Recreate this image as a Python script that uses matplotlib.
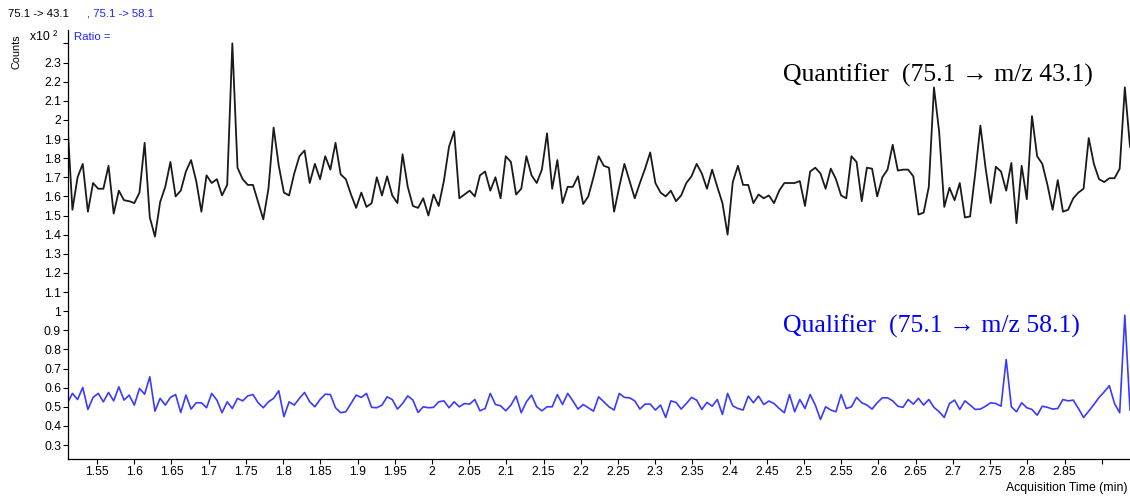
import numpy as np
import matplotlib
matplotlib.use('Agg')
import matplotlib.pyplot as plt

# acquisition window (min), scans are evenly spaced
t_start = 1.510
t_end = 2.938

# counts (x10^2)
quantifier = [
    2.00, 1.53, 1.70, 1.77, 1.52, 1.67, 1.64, 1.64, 1.76, 1.51, 1.63, 1.58, 1.575, 1.565, 1.62, 1.88,
    1.49, 1.39, 1.57, 1.65, 1.78, 1.60, 1.63, 1.73, 1.79, 1.68, 1.52, 1.71, 1.67, 1.69, 1.605, 1.66,
    2.40, 1.75, 1.69, 1.66, 1.66, 1.57, 1.48, 1.64, 1.96, 1.76, 1.62, 1.605, 1.72, 1.81, 1.84, 1.67,
    1.77, 1.69, 1.81, 1.74, 1.88,
    1.715, 1.69, 1.61, 1.54, 1.62, 1.545, 1.565, 1.70, 1.605, 1.705, 1.605, 1.565, 1.82, 1.65, 1.55,
    1.54, 1.59, 1.50, 1.61, 1.55, 1.68, 1.86, 1.94, 1.59, 1.61, 1.63, 1.60, 1.71, 1.73, 1.63, 1.70,
    1.59, 1.81, 1.78, 1.61, 1.64, 1.81, 1.71, 1.67, 1.74, 1.93, 1.64, 1.79, 1.565, 1.65, 1.65, 1.705,
    1.56, 1.60, 1.70, 1.81,
    1.76, 1.75, 1.52, 1.65, 1.77, 1.68, 1.59, 1.67, 1.745, 1.83, 1.67, 1.62, 1.60, 1.63, 1.575, 1.605,
    1.67, 1.705, 1.77, 1.72, 1.64, 1.74, 1.65, 1.565, 1.40, 1.675, 1.76, 1.66, 1.66, 1.565, 1.61, 1.59,
    1.605, 1.565, 1.63, 1.67, 1.67, 1.67, 1.68, 1.55, 1.73, 1.75, 1.72, 1.64, 1.745, 1.69, 1.605, 1.59,
    1.81, 1.78, 1.575, 1.75, 1.745, 1.60,
    1.70, 1.74, 1.87, 1.735, 1.74, 1.74, 1.705, 1.505, 1.515, 1.65, 2.17, 1.94, 1.545, 1.645, 1.58,
    1.67, 1.49, 1.495, 1.72, 1.97, 1.75, 1.565, 1.755, 1.73, 1.63, 1.775, 1.46, 1.76, 1.585, 2.02,
    1.81, 1.77, 1.66, 1.53, 1.685, 1.52, 1.53, 1.59, 1.62, 1.64, 1.905, 1.77, 1.69, 1.675, 1.695,
    1.695, 1.745, 2.17, 1.86,
]

qualifier = [
    0.517, 0.570, 0.538, 0.601, 0.486, 0.549, 0.570, 0.526, 0.575, 0.531, 0.604, 0.535, 0.561, 0.509,
    0.596, 0.566, 0.657, 0.477, 0.544, 0.509, 0.549, 0.564, 0.470, 0.561, 0.488, 0.521, 0.521, 0.495,
    0.570, 0.535, 0.469, 0.526, 0.491, 0.544, 0.531, 0.557, 0.564, 0.521, 0.495, 0.526, 0.544, 0.584,
    0.448, 0.526, 0.509, 0.544, 0.575, 0.526, 0.500, 0.538, 0.566, 0.564, 0.495, 0.469, 0.474, 0.517,
    0.561, 0.549, 0.570, 0.497, 0.495, 0.509, 0.552, 0.538, 0.488, 0.517, 0.557, 0.535, 0.470,
    0.500, 0.495, 0.497, 0.526, 0.531, 0.495, 0.526, 0.500, 0.517, 0.514, 0.538, 0.479, 0.491, 0.570,
    0.512, 0.505, 0.479, 0.509, 0.556, 0.469, 0.526, 0.561, 0.500, 0.479, 0.500, 0.500, 0.564, 0.512,
    0.570, 0.531, 0.488, 0.512, 0.495, 0.477, 0.552, 0.526, 0.500, 0.483, 0.570, 0.549, 0.547, 0.531,
    0.488, 0.514, 0.514, 0.483, 0.509, 0.444, 0.531, 0.523, 0.488, 0.517, 0.549, 0.535, 0.486, 0.523,
    0.503, 0.538, 0.460, 0.570, 0.505, 0.491, 0.483, 0.556, 0.521, 0.556, 0.512, 0.530,
    0.517, 0.491, 0.469, 0.564, 0.474, 0.538, 0.491, 0.564, 0.509, 0.434, 0.500, 0.483, 0.474, 0.564,
    0.491, 0.500, 0.549, 0.521, 0.509, 0.488, 0.521, 0.547, 0.547, 0.531, 0.503, 0.497, 0.538, 0.514,
    0.544, 0.509, 0.538, 0.497, 0.474, 0.444, 0.517, 0.535, 0.486, 0.531, 0.509, 0.486, 0.488, 0.503,
    0.521, 0.517, 0.503, 0.747, 0.500, 0.474, 0.521, 0.495, 0.486, 0.456, 0.503, 0.497, 0.488, 0.491,
    0.538, 0.531, 0.535, 0.491, 0.444, 0.477, 0.512, 0.549, 0.578, 0.610, 0.517, 0.469, 0.979, 0.483,
]

x_ticks = [1.55, 1.6, 1.65, 1.7, 1.75, 1.8, 1.85, 1.9, 1.95, 2.0, 2.05, 2.1, 2.15, 2.2, 2.25,
           2.3, 2.35, 2.4, 2.45, 2.5, 2.55, 2.6, 2.65, 2.7, 2.75, 2.8, 2.85, 2.9]
x_labels = ['1.55', '1.6', '1.65', '1.7', '1.75', '1.8', '1.85', '1.9', '1.95', '2', '2.05',
            '2.1', '2.15', '2.2', '2.25', '2.3', '2.35', '2.4', '2.45', '2.5', '2.55', '2.6', '2.65',
            '2.7', '2.75', '2.8', '2.85', '']
y_ticks = [0.3, 0.4, 0.5, 0.6, 0.7, 0.8, 0.9, 1.0, 1.1, 1.2, 1.3, 1.4, 1.5, 1.6, 1.7, 1.8, 1.9,
           2.0, 2.1, 2.2, 2.3, 2.4]
y_labels = ['0.3', '0.4', '0.5', '0.6', '0.7', '0.8', '0.9', '1', '1.1', '1.2', '1.3', '1.4', '1.5',
            '1.6', '1.7', '1.8', '1.9', '2', '2.1', '2.2', '2.3', '']

serif = ['Liberation Serif', 'DejaVu Serif']
plt.rcParams['font.family'] = ['Liberation Sans', 'DejaVu Sans']

t = np.linspace(t_start, t_end, len(quantifier))

fig = plt.figure(figsize=(11.3, 4.97), dpi=100)
ax = fig.add_axes([68 / 1130, 38 / 497, 1062 / 1130, 429 / 497])

ax.plot(t, quantifier, color='#1a1a1a', lw=1.3)
ax.plot(t, qualifier, color='#3a3aff', lw=1.2)

ax.set_xticks(x_ticks, x_labels, fontsize=8.8)
ax.set_yticks(y_ticks, y_labels, fontsize=8.8)
ax.set_xlim(1.511, t_end)
ax.set_ylim(0.227, 2.47)
ax.tick_params(direction='out', length=3.5, width=0.8, pad=1.5)
for s in ['top', 'right']:
    ax.spines[s].set_visible(False)
for s in ['left', 'bottom']:
    ax.spines[s].set_linewidth(0.9)

ax.text(0.673, 0.895, 'Quantifier  (75.1 \u2192 m/z 43.1)', transform=ax.transAxes,
        fontsize=18.5, family=serif, color='black', va='center', ha='left')
ax.text(0.673, 0.31, 'Qualifier  (75.1 \u2192 m/z 58.1)', transform=ax.transAxes,
        fontsize=18.5, family=serif, color='#0000ff', va='center', ha='left')

fig.text(8 / 1130, 1 - 14 / 497, '75.1 -> 43.1', fontsize=8.2, color='black', va='center')
fig.text(87 / 1130, 1 - 14 / 497, ', 75.1 -> 58.1', fontsize=8.2, color='#2020ff', va='center')
fig.text(74 / 1130, 1 - 37 / 497, 'Ratio =', fontsize=8.2, color='#2020ff', va='center')
fig.text(30 / 1130, 1 - 37 / 497, 'x10 \u00b2', fontsize=8.8, color='black', va='center')
fig.text(17 / 1130, 1 - 52 / 497, 'Counts', fontsize=7.8, color='black', rotation=90,
         va='center', ha='center')
fig.text(1127 / 1130, 1 - 488 / 497, 'Acquisition Time (min)', fontsize=8.8, color='black',
         va='center', ha='right')

fig.savefig('out.png', dpi=100)
